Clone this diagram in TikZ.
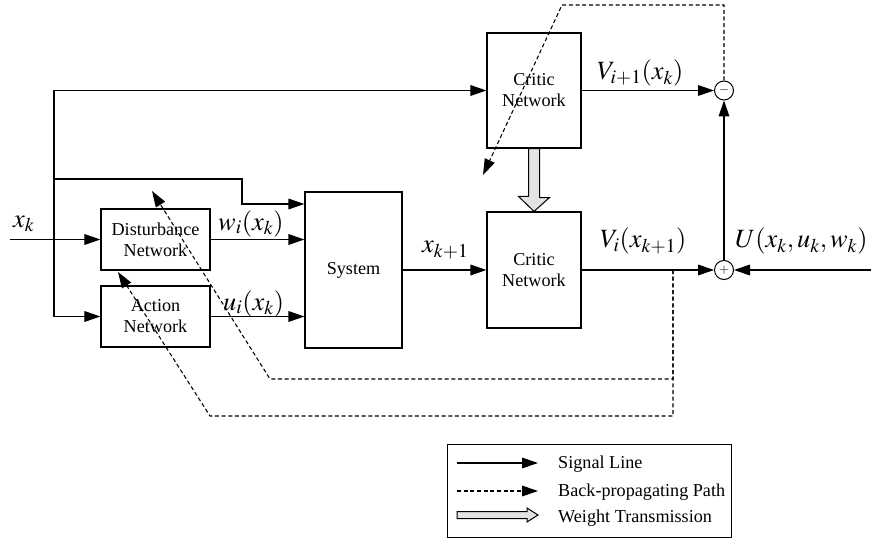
\documentclass[tikz,border=0pt]{standalone}
\usepackage{mathptmx}
\usepackage{fontspec}
\setmainfont{Liberation Serif}
\usetikzlibrary{arrows.meta,calc}

\tikzset{
  blk/.style={draw, line width=0.035cm, inner sep=0pt, align=center, font=\fontsize{15.5}{18}\selectfont},
  sig/.style={line width=0.035cm, -{Triangle[length=0.48cm,width=0.32cm]}},
  bp/.style={line width=0.032cm, dash pattern=on 0.12cm off 0.08cm, -{Triangle[length=0.48cm,width=0.32cm]}},
  sumpt/.style={draw, circle, line width=0.03cm, minimum size=0.57cm, inner sep=0pt, font=\fontsize{11}{11}\selectfont},
  lbl/.style={anchor=base west, inner sep=0pt, font=\fontsize{22.5}{26}\selectfont},
  wtrans/.style={draw, line width=0.03cm, fill=gray!22},
  legtxt/.style={anchor=base west, inner sep=0pt, font=\fontsize{15.5}{18}\selectfont}
}

\begin{document}
\begin{tikzpicture}[x=0.03cm,y=-0.03cm]
  \useasboundingbox (0,0) rectangle (871,540);

  % Drawing the blocks
  \node[blk, minimum width=3.27cm, minimum height=1.83cm] (dist) at (155.5,239.5) {Disturbance\\Network};
  \node[blk, minimum width=3.27cm, minimum height=1.83cm] (act) at (155.5,316.5) {Action\\Network};
  \node[blk, minimum width=2.91cm, minimum height=4.68cm] (sys) at (353.5,270) {System};
  \node[blk, minimum width=2.82cm, minimum height=3.45cm] (crit1) at (534,90.5) {Critic\\Network};
  \node[blk, minimum width=2.82cm, minimum height=3.48cm] (crit2) at (534,270) {Critic\\Network};

  % Marking the summing points
  \node[sumpt] (minus) at (724,90.5) {$-$};
  \node[sumpt] (plus) at (724,270) {$+$};

  % Free ends
  \coordinate (xin) at (10,239.5);
  \coordinate (br) at (54,239.5);
  \coordinate (uin) at (871,270);
  \coordinate (tap) at (673,270);
  \coordinate (tipc) at (483,175);
  \coordinate (tipd) at (152,191);
  \coordinate (tipa) at (118,272);

  % Drawing signal lines
  \draw[sig] (xin) -- (dist.west);
  \draw[sig] (br) |- (crit1.west);
  \draw[sig] (br) |- (act.west);
  \draw[sig] (br |- 0,179) -| (242,204) -- (sys.west |- 0,204);
  \draw[sig] (dist.east) -- (dist.east -| sys.west);
  \draw[sig] (act.east) -- (act.east -| sys.west);
  \draw[sig] (sys.east) -- (crit2.west);
  \draw[sig] (crit1.east) -- (minus.west);
  \draw[sig] (crit2.east) -- (plus.west);
  \draw[sig] (uin) -- (plus.east);
  \draw[sig] (plus.north) -- (minus.south);

  % Drawing weight transmission
  \draw[wtrans] ($(crit1.south)+(-5.5,0)$) -- ++(11,0) -- ++(0,49) -- ++(10,0)
    -- (crit2.north) -- ++(-15.5,-15) -- ++(10,0) -- cycle;

  % Drawing back-propagating paths
  \draw[bp] (minus.north) |- (562,5) -- (tipc);
  \draw[bp] (tap) |- (270,379) -- (tipd);
  \draw[bp] (tap) |- (210,416) -- (tipa);

  % Marking signals
  \node[lbl] (lxk) at (13,227) {$x_k$};
  \node[lbl] (lw) at (218,230) {$w_i(x_k)$};
  \node[lbl] (lu) at (223,310) {$u_i(x_k)$};
  \node[lbl] (lxk1) at (422,253) {$x_{k+1}$};
  \node[lbl] (lv1) at (597,80) {$V_{i+1}(x_k)$};
  \node[lbl] (lv) at (600,248) {$V_i(x_{k+1})$};
  \node[lbl] (lU) at (735,248) {$U(x_k,u_k,w_k)$};

  % Drawing the legend
  \node[draw, line width=0.03cm, minimum width=8.52cm, minimum height=2.79cm, inner sep=0pt] (leg) at (589,490.5) {};
  \coordinate (ls1) at (457,463);
  \coordinate (ls2) at (538,463);
  \coordinate (lb1) at (457,491);
  \coordinate (lb2) at (538,491);
  \draw[sig] (ls1) -- (ls2);
  \draw[bp] (lb1) -- (lb2);
  \draw[wtrans] (457,511.5) -- (527,511.5) -- (527,508) -- (538,515)
    -- (527,522) -- (527,518.5) -- (457,518.5) -- cycle;
  \node[legtxt] (tsig) at (558,468) {Signal Line};
  \node[legtxt] (tbp) at (558,496) {Back-propagating Path};
  \node[legtxt] (twt) at (558,522) {Weight Transmission};
\end{tikzpicture}
\end{document}
